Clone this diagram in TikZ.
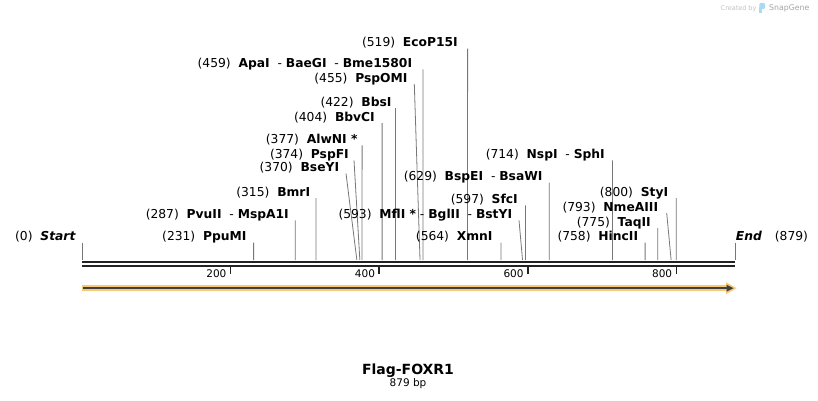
\documentclass[tikz,border=0pt]{standalone}
\usepackage{fontspec}
\setmainfont{DejaVu Sans}
\usepackage{xcolor}
\usepackage{tikz}
\usetikzlibrary{positioning}

\definecolor{cutgray}{HTML}{777777}
\definecolor{mapdark}{HTML}{222222}
\definecolor{featorange}{HTML}{F9C878}
\definecolor{featdark}{HTML}{404040}
\definecolor{wmgray}{HTML}{C2C2C2}
\definecolor{wmblue}{HTML}{A9DAF2}
\newcommand{\enz}[1]{\textbf{#1}}
\newcommand{\dsh}{\ \ -\ }
\newcommand{\gap}{\ \ }

\begin{document}
\begin{tikzpicture}[x=1pt, y=-1pt,
    enzlabel/.style={anchor=base east, inner sep=0pt, font=\fontsize{12.3}{14}\selectfont},
    cutline/.style={draw=cutgray, line width=0.8pt},
    mapline/.style={draw=mapdark, line width=2.3pt},
    tickmark/.style={draw=mapdark, line width=1.6pt},
    ticklabel/.style={anchor=base east, inner sep=0pt, font=\fontsize{10.5}{12}\selectfont}]
    % ── Cadre ───────────────────────────────────────────────────────────────
    \useasboundingbox (0,0) rectangle (818,400);
    \fill[white] (0,0) rectangle (818,400);
    % ── Filigrane en haut à droite ──────────────────────────────────────────
    \node[anchor=base west, inner sep=0pt, text=wmgray, font=\fontsize{6.5}{8}\selectfont]
      (wmtext) at (720.5, 10) {Created by};
    \fill[wmblue, rounded corners=1.4pt] (759.4,2.8) rectangle (765,9.2);
    \fill[wmblue] (759.4,7) rectangle (761.6,13.3);
    \node[anchor=base west, inner sep=0pt, text=wmgray!85!black, font=\fontsize{7.8}{9}\selectfont]
      (wmname) at (769, 10.6) {SnapGene};
    % ── Séquence : double trait noir (0 -> 879 bp) ──────────────────────────
    \coordinate (seqstart) at (82,262.2);
    \coordinate (seqend) at (735,262.2);
    \draw[mapline] (seqstart) -- (seqend);
    \draw[mapline] ([yshift=-4pt]seqstart) -- ([yshift=-4pt]seqend);
    % Graduations tous les 200 bp (x = 82 + bp*653/879)
    \foreach \t in {200,400,600,800} {
      \coordinate (k\t) at ({82+\t*0.742889}, 267);
      \draw[tickmark] (k\t) -- ++(0,6.5);
      \node[ticklabel] (n\t) at ({82+\t*0.742889-4}, 277.2) {\t};
    }
    % ── Sites de coupure ────────────────────────────────────────────────────
    % pos / x haut du trait / ligne de base / bord droit du texte / texte
    \foreach \p/\tx/\by/\rx/\txt in {
        519/467.6/46.7/458.0/{(519)\gap\enz{EcoP15I}},
        459/423.0/67.3/412.3/{(459)\gap\enz{ApaI}\dsh\enz{BaeGI}\dsh\enz{Bme1580I}},
        455/414.3/82.0/407.7/{(455)\gap\enz{PspOMI}},
        422/395.5/106.0/391.7/{(422)\gap\enz{BbsI}},
        404/382.1/121.0/375.0/{(404)\gap\enz{BbvCI}},
        377/362.1/143.3/357.7/{(377)\gap\enz{AlwNI *}},
        374/354.0/158.3/349.0/{(374)\gap\enz{PspFI}},
        370/346.0/171.5/339.3/{(370)\gap\enz{BseYI}},
        315/316.0/196.0/310.3/{(315)\gap\enz{BmrI}},
        287/295.2/218.3/289.0/{(287)\gap\enz{PvuII}\dsh\enz{MspA1I}},
        231/253.6/240.5/246.7/{(231)\gap\enz{PpuMI}},
        593/519.0/218.3/512.3/{(593)\gap\enz{MflI *}\ -\ \enz{BglII}\dsh\enz{BstYI}},
        564/501.0/240.5/492.7/{(564)\gap\enz{XmnI}},
        597/525.5/203.3/518.0/{(597)\gap\enz{SfcI}},
        629/549.3/180.7/542.7/{(629)\gap\enz{BspEI}\dsh\enz{BsaWI}},
        714/612.4/158.3/605.0/{(714)\gap\enz{NspI}\dsh\enz{SphI}},
        800/676.3/196.0/668.3/{(800)\gap\enz{StyI}},
        793/666.7/211.0/658.3/{(793)\gap\enz{NmeAIII}},
        775/657.7/226.0/651.0/{(775)\gap\enz{TaqII}},
        758/645.1/240.5/638.3/{(758)\gap\enz{HincII}}} {
      \coordinate (s\p) at ({82+\p*0.742889}, 260);
      \node[enzlabel] (l\p) at (\rx, \by) {\txt};
      \coordinate (t\p) at (\tx, {\by+2});
      \draw[cutline] (t\p) -- (s\p);
    }
    % ── Extrémités Start / End ──────────────────────────────────────────────
    \node[enzlabel] (lstart) at (76, 240.5) {(0)\gap\textbf{\textit{Start}}};
    \coordinate (tstart) at (82, 242.5);
    \draw[cutline] (tstart) -- (82,260);
    \node[enzlabel, anchor=base west] (lend) at (735.7, 240.5) {\textbf{\textit{End}}};
    \node[enzlabel, anchor=base west] (lendpos) at (774.7, 240.5) {(879)};
    \coordinate (tend) at (735, 242.5);
    \draw[cutline] (tend) -- (735,260);
    % ── Feature (flèche orange) ─────────────────────────────────────────────
    \coordinate (fstart) at (82,288.2);
    \coordinate (fend) at (727,288.2);
    \draw[featorange, line width=6pt] (fstart) -- (fend);
    \fill[featorange] (726,282.2) -- (736.5,288.2) -- (726,294.2) -- cycle;
    \draw[featdark, line width=2.2pt] ([xshift=1pt]fstart) -- (fend);
    \fill[featdark] (726.5,284.7) -- (733.5,288.2) -- (726.5,291.7) -- cycle;
    % ── Titre ───────────────────────────────────────────────────────────────
    \node[anchor=base, inner sep=0pt, font=\bfseries\fontsize{14}{16}\selectfont]
      (title) at (408, 374.2) {Flag-FOXR1};
    \node[inner sep=0pt, font=\fontsize{10.5}{12}\selectfont, below=12.5pt of title.base, anchor=base]
      (bplen) {879 bp};
\end{tikzpicture}
\end{document}
